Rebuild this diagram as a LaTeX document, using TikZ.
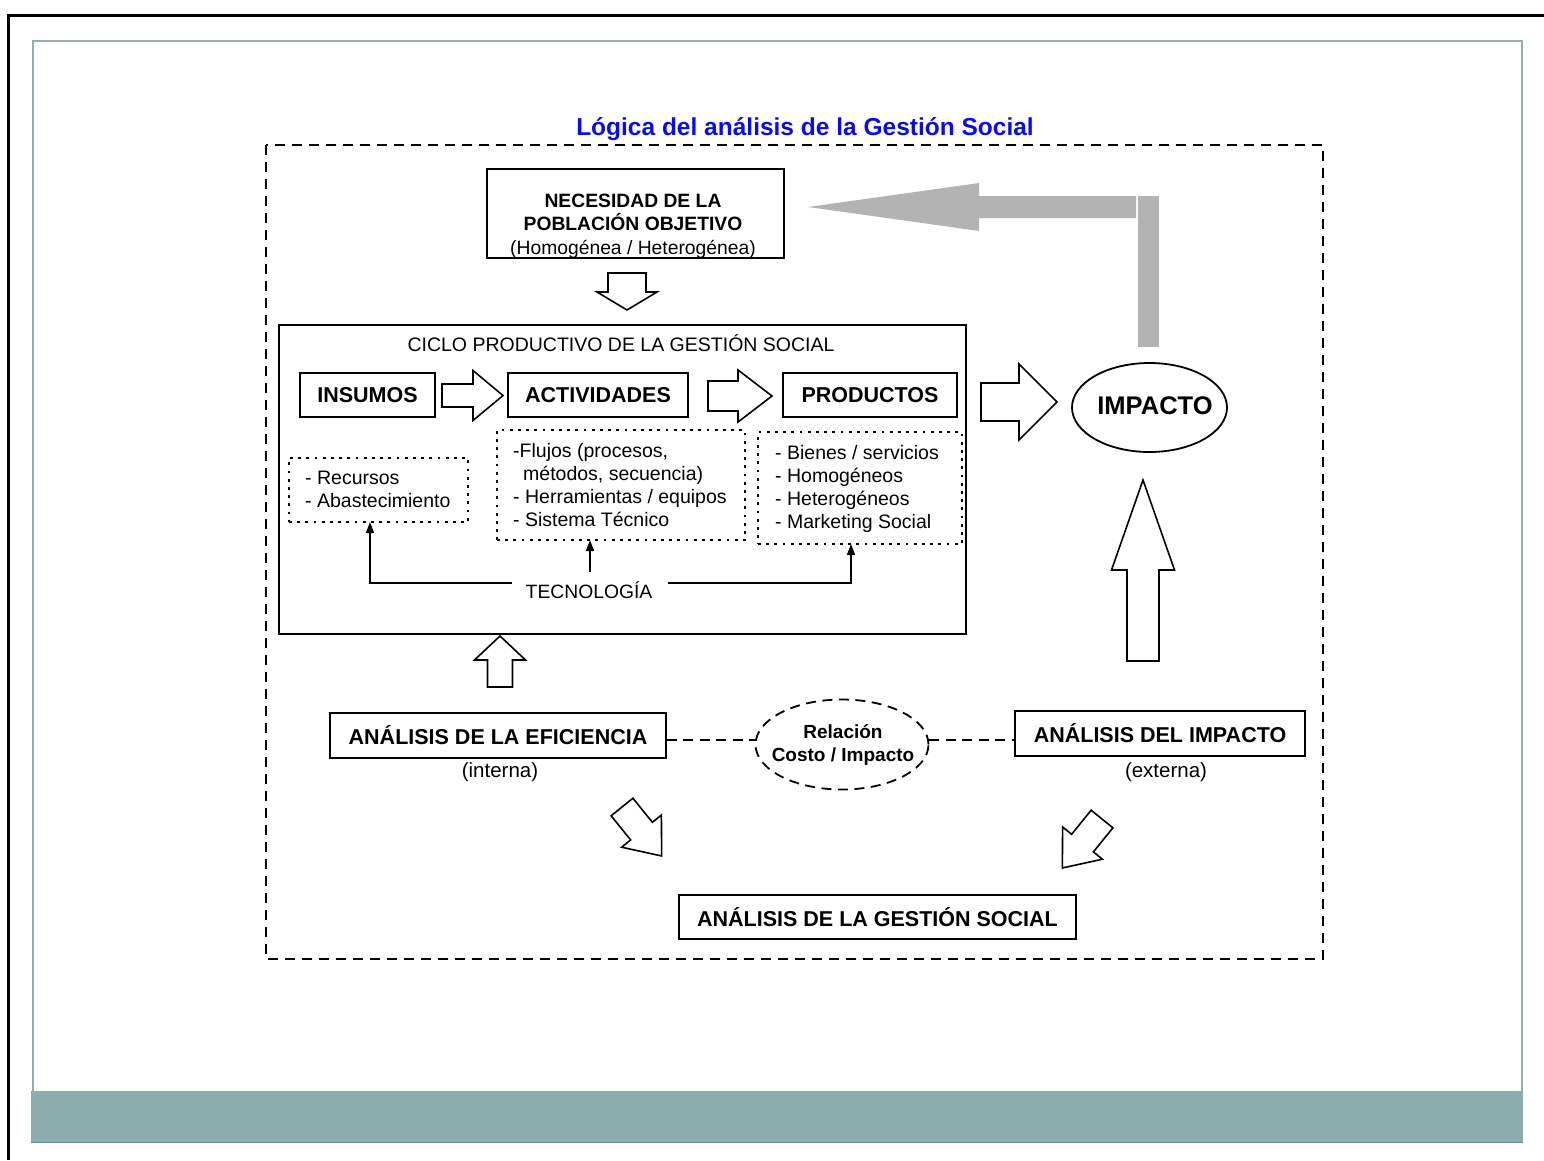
\documentclass[tikz,border=0pt]{standalone}
\usepackage{fontspec}
\setmainfont{Liberation Sans}
\usetikzlibrary{arrows.meta,shapes.geometric}
\definecolor{frameteal}{RGB}{143,176,174}
\definecolor{barteal}{RGB}{140,173,173}
\definecolor{arrowgray}{RGB}{179,179,179}
\definecolor{titleblue}{RGB}{10,10,240}
\newcommand\fs[2]{\fontsize{#1}{#2}\selectfont}
\newcommand\boxfont{\fs{21.5}{26}\bfseries}
\newcommand\blockarrow[7]{\draw[barrowstyle, shift={(#1,#2)}, rotate=#3] (0,-#5) -- ({#4-#7},-#5) -- ({#4-#7},-#6) -- (#4,0) -- ({#4-#7},#6) -- ({#4-#7},#5) -- (0,#5) -- cycle;}
\begin{document}
\begin{tikzpicture}[x=1pt,y=-1pt,
  solidbox/.style={draw, line width=1.8pt, rectangle, inner sep=0pt},
  dotbox/.style={draw, line width=2.8pt, dash pattern=on 2.8pt off 5.4pt, rectangle, inner sep=0pt},
  barrowstyle/.style={draw, line width=1.6pt, fill=white, line join=miter},
  lbl/.style={inner sep=0pt, align=center},
  listtxt/.style={inner sep=0pt, anchor=west, align=left, font=\fs{19.5}{23}},
  tarrow/.style={line width=1.6pt, -{Triangle[length=11pt,width=8pt]}},
  dline/.style={line width=1.8pt, dash pattern=on 10pt off 6.5pt},
  outerdash/.style={line width=2.5pt, dash pattern=on 10pt off 7pt}]
\useasboundingbox (0,0) rectangle (1544,1160);
% page frames
\draw[line width=3pt] (8,1160) -- (8,15) -- (1544,15);
\draw[frameteal, line width=2pt] (33,1091) -- (33,41) -- (1522,41) -- (1522,1091);
\fill[barteal] (31,1091) rectangle (1523,1143);
\draw[barteal!80!black, line width=1.5pt] (31,1142.5) -- (1523,1142.5);
% title and outer dashed frame
\node[lbl, font=\fs{24.5}{29}\bfseries, text=titleblue] (title) at (805,129) {Lógica del análisis de la Gestión Social};
\draw[outerdash] (266,145) rectangle (1323,959);
% necesidad
\node[solidbox, minimum width=297pt, minimum height=89pt] (nec) at (635.5,213.5) {};
\node[lbl, font=\fs{19.3}{23.5}] (nectext) at (633,226) {\textbf{NECESIDAD DE LA}\\\textbf{POBLACIÓN OBJETIVO}\\(Homogénea / Heterogénea)};
% gray feedback arrow
\fill[arrowgray] (808,207) -- (979,183) -- (979,196) -- (1136,196) -- (1136,218) -- (979,218) -- (979,231) -- cycle;
\fill[arrowgray] (1138,196) rectangle (1159,347);
% ciclo
\node[solidbox, minimum width=687pt, minimum height=309pt] (ciclo) at (622.5,479.5) {};
\node[lbl, font=\fs{19.5}{23}] (ciclotitle) at (621,343) {CICLO PRODUCTIVO DE LA GESTIÓN SOCIAL};
\node[solidbox, minimum width=135pt, minimum height=44pt, font=\boxfont] (ins) at (367.5,395) {INSUMOS};
\node[solidbox, minimum width=180pt, minimum height=44pt, font=\boxfont] (act) at (598,395) {ACTIVIDADES};
\node[solidbox, minimum width=174pt, minimum height=44pt, font=\boxfont] (prod) at (870,395) {PRODUCTOS};
\node[dotbox, minimum width=179pt, minimum height=64pt] (rec) at (378.5,490) {};
\node[listtxt] (rectext) at (305,489) {- Recursos\\- Abastecimiento};
\node[dotbox, minimum width=248pt, minimum height=110pt] (actl) at (621,485) {};
\node[listtxt] (actltext) at (513,485.5) {-Flujos (procesos,\\\hspace*{10pt}métodos, secuencia)\\- Herramientas / equipos\\- Sistema Técnico};
\node[dotbox, minimum width=204pt, minimum height=112pt] (prodl) at (860,488) {};
\node[listtxt] (prodltext) at (775,488.5) {- Bienes / servicios\\- Homogéneos\\- Heterogéneos\\- Marketing Social};
% tecnologia
\node[lbl, font=\fs{19.3}{23}] (tec) at (589,590) {TECNOLOGÍA};
\coordinate (tl) at (512,583);
\coordinate (tr) at (668,583);
\coordinate (recin) at (370,522);
\coordinate (prodin) at (851,544);
\coordinate (tup) at (590,572);
\coordinate (actin) at (590,540);
\draw[tarrow] (tl) -| (recin);
\draw[tarrow] (tr) -| (prodin);
\draw[tarrow] (tup) -- (actin);
% impacto
\node[draw, ellipse, line width=1.8pt, minimum width=155pt, minimum height=89pt, inner sep=0pt] (imp) at (1149.5,407.5) {};
\node[lbl, font=\fs{25.5}{30}\bfseries] (imptext) at (1155,406) {IMPACTO};
% analysis boxes
\node[solidbox, minimum width=336pt, minimum height=45pt, font=\boxfont] (eff) at (498,735.5) {ANÁLISIS DE LA EFICIENCIA};
\node[lbl, font=\fs{20.5}{24}] (interna) at (500,772) {(interna)};
\node[draw, ellipse, dline, minimum width=173pt, minimum height=90pt, inner sep=0pt] (rel) at (842,744.5) {};
\node[lbl, font=\fs{19}{23.5}\bfseries] (reltext) at (843,745) {Relación\\Costo / Impacto};
\node[solidbox, minimum width=290pt, minimum height=45pt, font=\boxfont] (impA) at (1160,733.5) {ANÁLISIS DEL IMPACTO};
\node[lbl, font=\fs{20.5}{24}] (externa) at (1166,772) {(externa)};
\node[solidbox, minimum width=397pt, minimum height=44pt, font=\boxfont] (gs) at (877.5,917) {ANÁLISIS DE LA GESTIÓN SOCIAL};
\draw[dline] ([yshift=-4.5pt]eff.east) -- ([yshift=4.5pt]rel.west);
\draw[dline] ([yshift=4.5pt]rel.east) -- ([yshift=-6.5pt]impA.west);
% block arrows
\blockarrow{627}{273}{-90}{37}{19}{30}{18}
\blockarrow{442}{395.5}{0}{61}{11.5}{25}{30}
\blockarrow{708}{396}{0}{64}{15}{26}{34}
\blockarrow{981}{402}{0}{76}{19}{38}{38}
\blockarrow{1143}{661}{90}{181}{16}{31.5}{90}
\blockarrow{500}{687}{90}{51}{12.5}{25.5}{24}
\blockarrow{622}{807}{-51}{63}{14}{25.6}{32}
\blockarrow{1102}{819}{-129}{63}{14}{25.6}{32}
\end{tikzpicture}
\end{document}
